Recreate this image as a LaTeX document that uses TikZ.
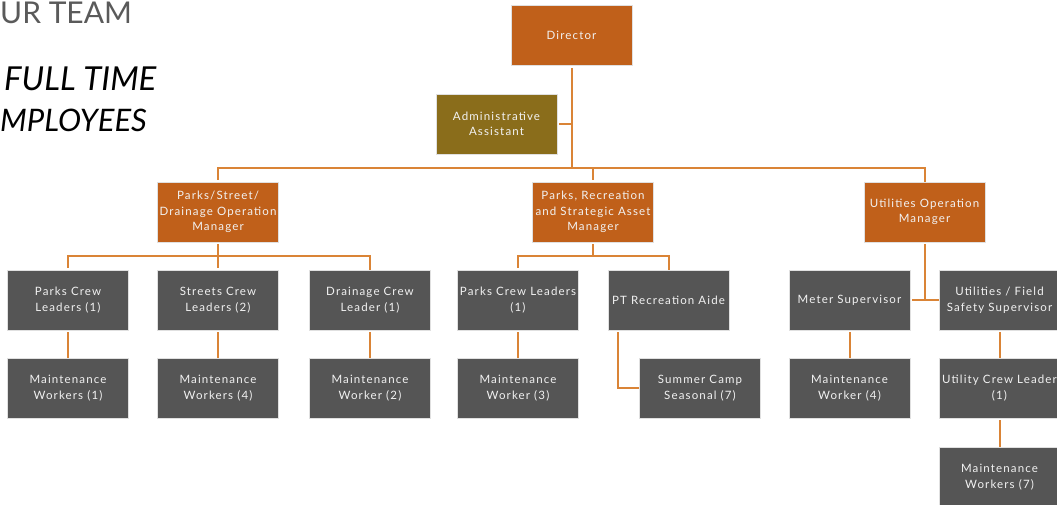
\documentclass[tikz,border=0pt]{standalone}
\usepackage{fontspec}
\setmainfont{Lato}
\newfontfamily\boxfont[LetterSpace=10]{Lato}
\definecolor{borange}{HTML}{C0601A}
\definecolor{bolive}{HTML}{8A6D1B}
\definecolor{bgray}{HTML}{555555}
\definecolor{lorange}{HTML}{DA8436}
\definecolor{tgray}{HTML}{5A5A5A}
\definecolor{btext}{HTML}{F2F2F2}
\begin{document}
\begin{tikzpicture}[x=1pt,y=-1pt,
  box/.style={draw=black!12,line width=0.6pt,minimum width=121pt,minimum height=60pt,inner sep=0pt,
    align=center,text=btext,font=\boxfont\fontsize{11.5}{15.5}\selectfont},
  obox/.style={box,fill=borange},
  vbox/.style={box,fill=bolive},
  gbox/.style={box,fill=bgray},
  link/.style={draw=lorange,line width=2pt}]
\useasboundingbox (0,0) rectangle (1057,504);
\node[anchor=base west,text=tgray,font=\fontsize{30}{32}\selectfont,inner sep=0pt] (t1) at (0,23) {UR TEAM};
\node[anchor=base west,text=black,font=\fontsize{33}{34}\itshape,inner sep=0pt] (t2) at (4,90) {FULL TIME};
\node[anchor=base west,text=black,font=\fontsize{31}{34}\itshape,inner sep=0pt] (t3) at (0,131) {MPLOYEES};

\node[obox] (dir) at (571.5,35.5) {Director};
\node[vbox] (adm) at (496.5,124) {Administrative\\Assistant};
\node[obox] (m1) at (218,212) {Parks/Street/\\Drainage Operation\\Manager};
\node[obox] (m2) at (593,212) {Parks, Recreation\\and Strategic Asset\\Manager};
\node[obox] (m3) at (924.5,212) {Utilities Operation\\Manager};

\node[gbox] (a1) at (68,300) {Parks Crew\\Leaders (1)};
\node[gbox] (a2) at (218,300) {Streets Crew\\Leaders (2)};
\node[gbox] (a3) at (370,300) {Drainage Crew\\Leader (1)};
\node[gbox] (b1) at (518,300) {Parks Crew Leaders\\(1)};
\node[gbox] (b2) at (668.5,300) {PT Recreation Aide};
\node[gbox] (u1) at (849.5,300) {Meter Supervisor};
\node[gbox] (u2) at (999.5,300) {Utilities / Field\\Safety Supervisor};

\node[gbox] (w1) at (68,388) {Maintenance\\Workers (1)};
\node[gbox] (w2) at (218,388) {Maintenance\\Workers (4)};
\node[gbox] (w3) at (370,388) {Maintenance\\Worker (2)};
\node[gbox] (w4) at (518,388) {Maintenance\\Worker (3)};
\node[gbox] (sc) at (700,388) {Summer Camp\\Seasonal (7)};
\node[gbox] (w5) at (849.5,388) {Maintenance\\Worker (4)};
\node[gbox] (ucl) at (999.5,388) {Utility Crew Leader\\(1)};
\node[gbox] (w6) at (999.5,477) {Maintenance\\Workers (7)};

\coordinate (b) at (0,168);
\coordinate (c) at (0,256);
\begin{scope}[shorten <=2pt]
\draw[link] (dir.south) -- (dir.south |- b);
\draw[link] (adm.east) -- (adm.east -| dir.south);
\draw[link] (m1.north) |- (m3.north |- b) -- (m3.north);
\draw[link] (m2.north) -- (m2.north |- b);
\draw[link] (m1.south) -- (m1.south |- c);
\draw[link] (a1.north) |- (a3.north |- c) -- (a3.north);
\draw[link] (a2.north) -- (a2.north |- c);
\draw[link] (m2.south) -- (m2.south |- c);
\draw[link] (b1.north) |- (b2.north |- c) -- (b2.north);
\draw[link] (m3.south) -- (m3.south |- u1.east);
\draw[link] (u1.east) -- (u2.west);
\draw[link] (a1) -- (w1);
\draw[link] (a2) -- (w2);
\draw[link] (a3) -- (w3);
\draw[link] (b1) -- (w4);
\draw[link] ([xshift=-50.5pt]b2.south) |- (sc.west);
\draw[link] (u1) -- (w5);
\draw[link] (u2) -- (ucl);
\draw[link] (ucl) -- (w6);
\end{scope}
\end{tikzpicture}
\end{document}
